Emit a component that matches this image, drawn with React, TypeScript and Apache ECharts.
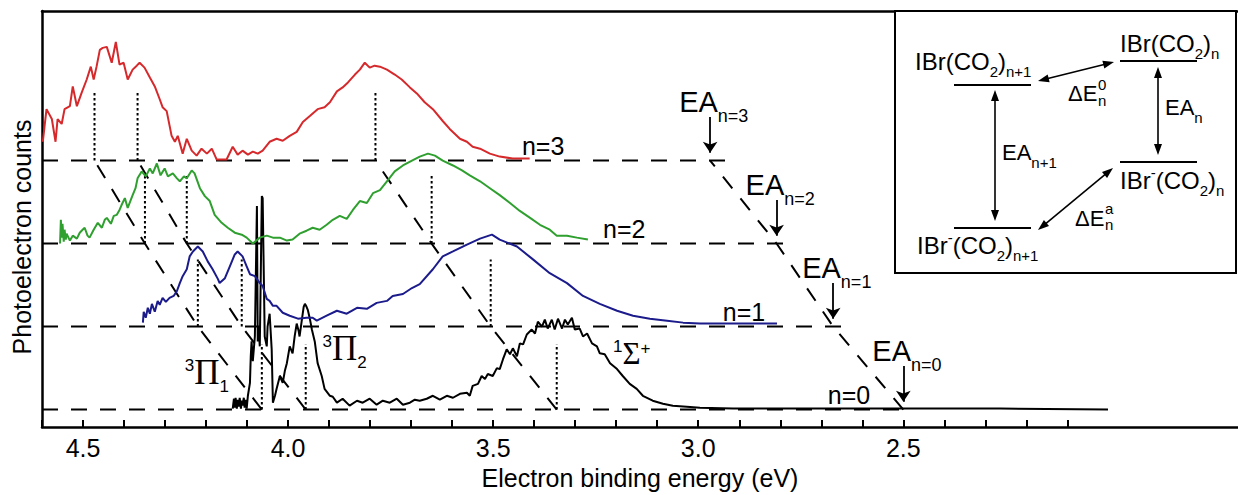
import React, { useEffect, useRef } from "react";
import * as echarts from "echarts";

const FONT = "'Liberation Sans', Arial, Helvetica, sans-serif";
const SERIF = "'Liberation Serif', 'Times New Roman', serif";

// ---------- axis ----------
const xLeft = 4.6;
const xRight = 1.684;
const yMin = -17.7;
const yMax = 403.3;
const tickValues = [4.6, 4.5, 4.4, 4.3, 4.2, 4.1, 4.0, 3.9, 3.8, 3.7, 3.6, 3.5, 3.4, 3.3, 3.2, 3.1, 3.0, 2.9, 2.8, 2.7, 2.6, 2.5, 2.4, 2.3, 2.2, 2.1];
const tickLabels = [4.5, 4.0, 3.5, 3.0, 2.5];

// ---------- traces: [binding energy (eV), counts above own baseline] ----------
const traceN3: [number, number][] = [
  [4.598, 19], [4.589, 52], [4.576, 42], [4.567, 19], [4.562, 42], [4.552, 37], [4.545, 52], [4.532, 55], [4.525, 75], [4.515, 55],
  [4.503, 69], [4.491, 82], [4.481, 95], [4.474, 82], [4.467, 95], [4.459, 112], [4.452, 114], [4.442, 115], [4.430, 99], [4.420, 120],
  [4.411, 97], [4.401, 99], [4.391, 82], [4.379, 92], [4.369, 96], [4.362, 99], [4.350, 94], [4.337, 84], [4.325, 75], [4.313, 62],
  [4.306, 54], [4.296, 50], [4.284, 25], [4.276, 19], [4.269, 25], [4.257, 7], [4.247, 22], [4.235, 10], [4.223, 5], [4.211, 12],
  [4.198, 7], [4.186, 12], [4.174, 1], [4.150, 1], [4.135, 14], [4.123, 6], [4.111, 10], [4.098, 6], [4.086, 9], [4.074, 7],
  [4.062, 10], [4.045, 19], [4.028, 22], [4.013, 20], [3.996, 25], [3.979, 29], [3.964, 39], [3.947, 45], [3.928, 52], [3.911, 54],
  [3.898, 59], [3.881, 70], [3.867, 74], [3.854, 79], [3.837, 87], [3.825, 92], [3.813, 99], [3.801, 94], [3.789, 96], [3.776, 95],
  [3.759, 92], [3.740, 87], [3.723, 82], [3.703, 74], [3.684, 67], [3.667, 59], [3.647, 52], [3.623, 40], [3.606, 32], [3.581, 22],
  [3.564, 19], [3.550, 14], [3.532, 12], [3.508, 7], [3.484, 4], [3.452, 2], [3.411, 2],
];

const traceN2: [number, number][] = [
  [4.556, 0], [4.554, 24], [4.552, 6], [4.550, 20], [4.547, 2], [4.545, 14], [4.542, 4], [4.540, 10], [4.532, 3], [4.525, 8],
  [4.515, 5], [4.508, 11], [4.501, 14], [4.496, 16], [4.489, 8], [4.484, 6], [4.474, 14], [4.464, 21], [4.454, 16], [4.447, 24],
  [4.442, 26], [4.432, 20], [4.425, 28], [4.418, 29], [4.411, 34], [4.406, 39], [4.398, 46], [4.391, 36], [4.379, 49], [4.372, 56],
  [4.367, 66], [4.357, 73], [4.347, 68], [4.337, 76], [4.330, 71], [4.320, 81], [4.311, 69], [4.301, 76], [4.293, 68], [4.281, 71],
  [4.271, 66], [4.264, 63], [4.254, 68], [4.247, 66], [4.235, 74], [4.228, 71], [4.215, 56], [4.203, 48], [4.191, 43], [4.179, 29],
  [4.162, 21], [4.147, 16], [4.130, 11], [4.113, 9], [4.101, 6], [4.086, 0], [4.069, 6], [4.052, 8], [4.037, 6], [4.020, 6],
  [4.003, 3], [3.989, 4], [3.972, 10], [3.955, 13], [3.940, 16], [3.923, 14], [3.906, 19], [3.891, 24], [3.874, 28], [3.857, 25],
  [3.842, 34], [3.825, 43], [3.808, 41], [3.793, 51], [3.776, 54], [3.759, 63], [3.740, 73], [3.720, 79], [3.698, 84], [3.679, 88],
  [3.659, 91], [3.642, 89], [3.623, 84], [3.598, 79], [3.576, 74], [3.557, 69], [3.532, 63], [3.508, 56], [3.484, 49], [3.459, 41],
  [3.435, 33], [3.410, 26], [3.386, 19], [3.362, 14], [3.345, 8], [3.320, 8], [3.296, 6], [3.269, 4],
];

const traceN1: [number, number][] = [
  [4.354, 4], [4.352, 15], [4.347, 9], [4.342, 19], [4.337, 13], [4.332, 23], [4.325, 15], [4.318, 26], [4.313, 22], [4.306, 29],
  [4.298, 25], [4.289, 29], [4.279, 31], [4.271, 36], [4.264, 44], [4.257, 51], [4.247, 58], [4.240, 71], [4.232, 76], [4.220, 81],
  [4.208, 76], [4.196, 66], [4.184, 58], [4.171, 48], [4.167, 44], [4.154, 49], [4.142, 61], [4.130, 73], [4.123, 76], [4.111, 71],
  [4.101, 61], [4.093, 53], [4.081, 51], [4.069, 44], [4.062, 41], [4.052, 28], [4.045, 26], [4.037, 21], [4.028, 21], [4.013, 14],
  [3.996, 11], [3.976, 8], [3.955, 9], [3.940, 9], [3.930, 6], [3.906, 11], [3.881, 16], [3.857, 13], [3.832, 19], [3.808, 18],
  [3.784, 24], [3.759, 26], [3.745, 31], [3.720, 33], [3.698, 39], [3.679, 43], [3.647, 58], [3.623, 71], [3.598, 76], [3.564, 83],
  [3.532, 89], [3.503, 93], [3.484, 88], [3.442, 81], [3.403, 68], [3.362, 54], [3.320, 44], [3.281, 31], [3.240, 23], [3.198, 16],
  [3.159, 11], [3.118, 8], [3.076, 6], [3.037, 4], [2.996, 3], [2.915, 3], [2.808, 3],
];

const traceN0: [number, number][] = [
  [4.135, 1], [4.132, 11], [4.130, 2], [4.128, 12], [4.125, 1], [4.123, 10], [4.120, 3], [4.118, 12], [4.115, 1], [4.113, 9],
  [4.111, 4], [4.108, 12], [4.106, 2], [4.103, 10], [4.101, 1], [4.098, 14], [4.093, 27], [4.091, 54], [4.089, 69], [4.086, 49],
  [4.081, 74], [4.076, 206], [4.074, 69], [4.072, 84], [4.069, 64], [4.064, 216], [4.062, 214], [4.057, 74], [4.052, 64], [4.050, 84],
  [4.045, 97], [4.040, 61], [4.037, 7], [4.032, 14], [4.028, 21], [4.020, 34], [4.013, 27], [4.008, 39], [4.003, 47], [3.996, 64],
  [3.989, 57], [3.984, 74], [3.979, 87], [3.974, 79], [3.972, 74], [3.967, 89], [3.962, 104], [3.959, 107], [3.955, 104], [3.952, 101],
  [3.947, 92], [3.942, 81], [3.935, 69], [3.928, 47], [3.918, 34], [3.911, 21], [3.898, 14], [3.891, 13], [3.881, 7], [3.867, 11],
  [3.850, 4], [3.832, 9], [3.818, 7], [3.801, 11], [3.784, 5], [3.769, 9], [3.752, 7], [3.735, 11], [3.720, 5], [3.703, 7],
  [3.691, 10], [3.679, 9], [3.662, 11], [3.647, 14], [3.630, 10], [3.613, 14], [3.598, 12], [3.581, 16], [3.564, 17], [3.557, 14],
  [3.550, 24], [3.537, 26], [3.528, 34], [3.520, 31], [3.513, 36], [3.501, 34], [3.491, 42], [3.484, 41], [3.476, 51], [3.467, 61],
  [3.459, 56], [3.452, 62], [3.442, 54], [3.435, 67], [3.427, 66], [3.418, 76], [3.406, 81], [3.398, 77], [3.391, 89], [3.381, 84],
  [3.374, 91], [3.367, 82], [3.357, 91], [3.350, 81], [3.342, 92], [3.332, 82], [3.325, 91], [3.318, 86], [3.308, 93], [3.301, 81],
  [3.289, 82], [3.281, 74], [3.271, 77], [3.259, 67], [3.247, 64], [3.240, 57], [3.228, 56], [3.215, 47], [3.198, 41], [3.184, 34],
  [3.167, 26], [3.150, 21], [3.135, 14], [3.111, 9], [3.086, 6], [3.062, 4], [3.028, 3], [2.996, 2], [2.915, 1], [2.752, 1],
  [2.508, 1], [2.264, 1], [2.001, 0],
];

const traces = [traceN0, traceN1, traceN2, traceN3];
const traceColors = ["#000000", "#1b1b8c", "#2fa02f", "#d6292c"];
const offsets = [0, 84, 168, 252];
const baselineEnd = [2.5, 2.623, 2.776, 2.928];

// peak positions (n = 0..3)
const pi1Pos = [4.064, 4.22, 4.349, 4.472];
const pi2Pos = [3.957, 4.113, 4.247, 4.367];
const sigmaPos = [3.345, 3.506, 3.65, 3.787];
const eaPos = [2.5, 2.671, 2.809, 2.971];
const dropHeight = [66, 68, 69, 69];

// text labels placed in data coordinates: [E, counts, pixel x-shift]
const nLabelPos = [2.684, 2.94, 3.232, 3.43];
const stateLabels = [
  { e: 4.252, c: 38, text: "{sp|3}{pi|Π}{sb|1}" },
  { e: 3.916, c: 62, text: "{sp|3}{pi|Π}{sb|2}" },
  { e: 3.208, c: 57, text: "{sp|1}{sg|Σ}{sp2|+}" },
];

const labelRich = {
  n: { fontSize: 25, fontFamily: FONT, fill: "#000" },
  a: { fontSize: 29, fontFamily: FONT, fill: "#000" },
  b: { fontSize: 18, fontFamily: FONT, fill: "#000", padding: [28, 0, 0, 0] },
  sp: { fontSize: 17, fontFamily: FONT, fill: "#000", padding: [0, 0, 13, 0] },
  sp2: { fontSize: 17, fontFamily: FONT, fill: "#000", padding: [0, 0, 10, 0] },
  sb: { fontSize: 17, fontFamily: FONT, fill: "#000", padding: [28, 0, 0, 0] },
  pi: { fontSize: 35, fontFamily: SERIF, fill: "#000" },
  sg: { fontSize: 31, fontFamily: SERIF, fill: "#000" },
};

const labelTexts: string[] = [];
const labelData: number[][] = [];
nLabelPos.forEach((e, n) => {
  labelTexts.push(`{n|n=${n}}`);
  labelData.push([e, offsets[n] + 15, 0, labelTexts.length - 1]);
});
eaPos.forEach((e, n) => {
  labelTexts.push(`{a|EA}{b|n=${n}}`);
  labelData.push([e, offsets[n] + 59, -31, labelTexts.length - 1]);
});
stateLabels.forEach((s) => {
  labelTexts.push(s.text);
  labelData.push([s.e, s.c, 0, labelTexts.length - 1]);
});

function dblArrow(x1: number, y1: number, x2: number, y2: number) {
  const dx = x2 - x1, dy = y2 - y1;
  const L = Math.hypot(dx, dy);
  const ux = dx / L, uy = dy / L;
  const hl = 11, hw = 4;
  const head = (tx: number, ty: number, ax: number, ay: number) => ({
    type: "polygon",
    silent: true,
    shape: {
      points: [
        [tx, ty],
        [tx - ax * hl - ay * hw, ty - ay * hl + ax * hw],
        [tx - ax * hl + ay * hw, ty - ay * hl - ax * hw],
      ],
    },
    style: { fill: "#000" },
  });
  return [
    { type: "line", silent: true, shape: { x1: x1 + ux * 5, y1: y1 + uy * 5, x2: x2 - ux * 5, y2: y2 - uy * 5 }, style: { stroke: "#000", lineWidth: 1.6 } },
    head(x2, y2, ux, uy),
    head(x1, y1, -ux, -uy),
  ];
}

const insetRich = {
  m: { fontSize: 24, fontFamily: FONT, fill: "#000" },
  s: { fontSize: 15, fontFamily: FONT, fill: "#000", padding: [20, 0, 0, 0] },
  u: { fontSize: 15, fontFamily: FONT, fill: "#000", padding: [0, 0, 16, 0] },
  e: { fontSize: 22, fontFamily: FONT, fill: "#000" },
};

function itext(x: number, y: number, text: string) {
  return {
    type: "text",
    silent: true,
    x,
    y,
    style: {
      text,
      rich: insetRich,
      fontSize: 24,
      fontFamily: FONT,
      fill: "#000",
      align: "left",
      textAlign: "left",
      verticalAlign: "middle",
      textVerticalAlign: "middle",
    },
  };
}

function smallText(x: number, y: number, text: string) {
  return {
    type: "text",
    silent: true,
    x,
    y,
    style: { text, fontSize: 15, fontFamily: FONT, fill: "#000", align: "left", textAlign: "left", verticalAlign: "middle", textVerticalAlign: "middle" },
  };
}

function buildOption() {
  const series: any[] = [];

  // dashed baselines
  offsets.forEach((off, n) => {
    series.push({
      type: "line",
      silent: true,
      symbol: "none",
      z: 1,
      data: [[xLeft, off], [baselineEnd[n], off]],
      lineStyle: { color: "#000", width: 2, type: [16, 13] },
    });
  });

  // EA arrows
  series.push({
    type: "line",
    silent: true,
    symbol: "none",
    z: 4,
    data: [],
    markLine: {
      silent: true,
      symbol: ["none", "arrow"],
      symbolSize: 11,
      label: { show: false },
      itemStyle: { color: "#000" },
      lineStyle: { color: "#000", width: 1.8, type: "solid" },
      emphasis: { disabled: true },
      data: eaPos.map((e, k) => [{ coord: [e, offsets[k] + 44] }, { coord: [e, offsets[k] + 8] }]),
    },
  });

  // diagonal dashed correlations
  [pi1Pos, pi2Pos, sigmaPos, eaPos].forEach((pos) => {
    series.push({
      type: "line",
      silent: true,
      symbol: "none",
      z: 1,
      data: pos.map((e, n) => [e, offsets[n]]),
      lineStyle: { color: "#000", width: 2, type: [15, 13] },
    });
  });

  // dotted drop lines
  [pi1Pos, pi2Pos, sigmaPos].forEach((pos) => {
    pos.forEach((e, n) => {
      series.push({
        type: "line",
        silent: true,
        symbol: "none",
        z: 1,
        data: [[e, offsets[n]], [e, offsets[n] + dropHeight[n]]],
        lineStyle: { color: "#000", width: 2, type: [2.5, 2.5] },
      });
    });
  });

  // spectra
  traces.forEach((tr, n) => {
    series.push({
      type: "line",
      silent: true,
      symbol: "none",
      z: 3,
      data: tr.map(([e, c]) => [e, c + offsets[n]]),
      lineStyle: { color: traceColors[n], width: 2 },
    });
  });

  // text labels at data coordinates
  series.push({
    type: "custom",
    silent: true,
    z: 6,
    clip: false,
    data: labelData,
    renderItem: (params: any, api: any) => {
      const p = api.coord([api.value(0), api.value(1)]);
      const txt = labelTexts[api.value(3)];
      return {
        type: "text",
        x: p[0] + api.value(2),
        y: p[1],
        style: {
          text: txt,
          rich: labelRich,
          fill: "#000",
          fontFamily: FONT,
          fontSize: 25,
          align: "left",
          verticalAlign: "middle",
          textAlign: "left",
          textVerticalAlign: "middle",
        },
      };
    },
  });

  const graphic: any[] = [
    {
      type: "text",
      silent: true,
      x: 22,
      y: 237,
      rotation: Math.PI / 2,
      style: {
        text: "Photoelectron counts",
        fontSize: 25,
        fontFamily: FONT,
        fill: "#000",
        align: "center",
        textAlign: "center",
        verticalAlign: "middle",
        textVerticalAlign: "middle",
      },
    },
    // inset frame
    { type: "rect", silent: true, shape: { x: 895, y: 11, width: 341, height: 262 }, style: { fill: "#fff", stroke: "#000", lineWidth: 2 }, z: 10 },
    // energy levels
    { type: "line", silent: true, shape: { x1: 954, y1: 85, x2: 1031, y2: 85 }, style: { stroke: "#000", lineWidth: 2 }, z: 11 },
    { type: "line", silent: true, shape: { x1: 1120, y1: 61, x2: 1197, y2: 61 }, style: { stroke: "#000", lineWidth: 2 }, z: 11 },
    { type: "line", silent: true, shape: { x1: 1120, y1: 162, x2: 1197, y2: 162 }, style: { stroke: "#000", lineWidth: 2 }, z: 11 },
    { type: "line", silent: true, shape: { x1: 954, y1: 228, x2: 1031, y2: 228 }, style: { stroke: "#000", lineWidth: 2 }, z: 11 },
    ...[...dblArrow(995, 90, 995, 221), ...dblArrow(1158, 67, 1158, 155), ...dblArrow(1038, 81, 1114, 62), ...dblArrow(1038, 230, 1113, 168)].map((el) => ({ ...el, z: 11 })),
    { ...itext(915, 61, "{m|IBr(CO}{s|2}{m|)}{s|n+1}"), z: 11 },
    { ...itext(1120, 43, "{m|IBr(CO}{s|2}{m|)}{s|n}"), z: 11 },
    { ...itext(1120, 180, "{m|IBr}{u|-}{m|(CO}{s|2}{m|)}{s|n}"), z: 11 },
    { ...itext(917, 245, "{m|IBr}{u|-}{m|(CO}{s|2}{m|)}{s|n+1}"), z: 11 },
    { ...itext(1165, 107, "{e|EA}{s|n}"), z: 11 },
    { ...itext(1002, 152, "{e|EA}{s|n+1}"), z: 11 },
    { ...itext(1068, 93, "{e|ΔE}"), z: 11 },
    { ...smallText(1098, 84, "0"), z: 11 },
    { ...smallText(1098, 100, "n"), z: 11 },
    { ...itext(1075, 218, "{e|ΔE}"), z: 11 },
    { ...smallText(1105, 208, "a"), z: 11 },
    { ...smallText(1105, 224, "n"), z: 11 },
  ];

  return {
    animation: false,
    backgroundColor: "#ffffff",
    textStyle: { fontFamily: FONT },
    grid: { left: 42, right: 0, top: 11, bottom: 63, containLabel: false },
    xAxis: [
      {
        type: "value",
        min: xRight,
        max: xLeft,
        inverse: true,
        name: "Electron binding energy (eV)",
        nameLocation: "middle",
        nameGap: 36,
        nameTextStyle: { fontSize: 25, color: "#000", fontFamily: FONT },
        axisLine: { show: true, onZero: false, lineStyle: { color: "#000", width: 2.5 } },
        axisTick: { show: true, inside: true, length: 7, lineStyle: { color: "#000", width: 2 }, customValues: tickValues },
        axisLabel: { show: true, fontSize: 25, color: "#000", margin: 8, customValues: tickLabels, formatter: (v: number) => v.toFixed(1), fontFamily: FONT },
        splitLine: { show: false },
      },
      {
        type: "value",
        position: "top",
        min: xRight,
        max: xLeft,
        inverse: true,
        axisLine: { show: true, onZero: false, lineStyle: { color: "#000", width: 2.5 } },
        axisTick: { show: false },
        axisLabel: { show: false },
        splitLine: { show: false },
      },
    ],
    yAxis: {
      type: "value",
      min: yMin,
      max: yMax,
      axisLine: { show: true, onZero: false, lineStyle: { color: "#000", width: 2.5 } },
      axisTick: { show: false },
      axisLabel: { show: false },
      splitLine: { show: false },
    },
    series,
    graphic,
  };
}

export default function App() {
  const ref = useRef<HTMLDivElement>(null);
  useEffect(() => {
    if (!ref.current) return;
    const chart = echarts.init(ref.current, undefined, { renderer: "svg" });
    chart.setOption(buildOption() as any);
    return () => chart.dispose();
  }, []);
  return <div ref={ref} style={{ position: "absolute", left: 0, top: 0, width: 1238, height: 495, background: "#fff" }} />;
}
